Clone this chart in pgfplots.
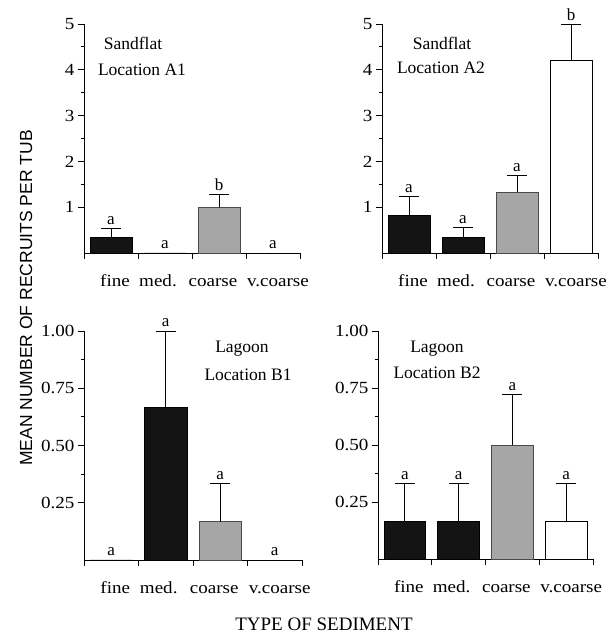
\documentclass[border=0pt]{standalone}
\usepackage{fontspec}
\setmainfont{Liberation Serif}
\newfontfamily\sansf{Liberation Sans}
\newfontfamily\tickf[FakeStretch=1.12]{Liberation Serif}
\usepackage{pgfplots}
\pgfplotsset{compat=1.18}

\definecolor{barblack}{HTML}{141414}
\definecolor{bargray}{HTML}{A6A6A6}
\definecolor{grayedge}{HTML}{4A4A4A}

\pgfplotsset{
  panel/.style={
    scale only axis, anchor=south west, clip=false,
    xmin=0.5, xmax=4.5, ymin=0,
    axis x line*=bottom, axis y line*=left,
    axis line style={line width=0.8pt, -},
    tick align=outside, major tick length=6pt, minor tick length=3.5pt,
    every tick/.style={black, line width=0.8pt},
    xtick={0.5,1.5,2.5,3.5,4.5}, x tick label as interval,
    xticklabels={\hspace*{8pt}fine, med.\hspace*{14pt}, coarse\hspace*{12pt}, \hspace*{10pt}v.coarse},
    minor y tick num=1,
    tick label style={font=\tickf\fontsize{17}{20}\selectfont},
    xticklabel style={anchor=base, yshift=-28pt},
    /pgf/number format/assume math mode=true,
  },
  blk/.style={ybar, bar width=0.78, bar shift=0pt, fill=barblack, draw=black, line width=0.8pt},
  gry/.style={ybar, bar width=0.78, bar shift=0pt, fill=bargray, draw=grayedge, line width=0.8pt},
  wht/.style={ybar, bar width=0.78, bar shift=0pt, fill=white, draw=black, line width=0.8pt},
  errb/.style={error bars/.cd, y dir=plus, y explicit, error mark=none,
    error bar style={line width=0.8pt, black}},
  cap/.style={only marks, mark=-, mark size=10pt, mark options={line width=0.8pt, black}},
}
\tikzset{lt/.style={anchor=base, yshift=4pt, font=\fontsize{17}{20}\selectfont}}

\begin{document}
\begin{tikzpicture}
\useasboundingbox (0pt,0pt) rectangle (614pt,635pt);

% Sandflat A1
\begin{axis}[panel, at={(84pt,382pt)}, width=216pt, height=229pt, ymax=5, ytick={1,2,3,4,5}]
  \addplot[blk, errb] coordinates {(1,0.33) +- (0,0.21)};
  \addplot[blk] coordinates {(2,0)};
  \addplot[gry, errb] coordinates {(3,1.0) +- (0,0.28)};
  \addplot[wht] coordinates {(4,0)};
  \addplot[cap] coordinates {(1,0.54) (3,1.28)};
  \node[lt] at (axis cs:1,0.54) {a};
  \node[lt] at (axis cs:2,0) {a};
  \node[lt] at (axis cs:3,1.28) {b};
  \node[lt] at (axis cs:4,0) {a};
\end{axis}

% Sandflat A2
\begin{axis}[panel, at={(382pt,382pt)}, width=216pt, height=229pt, ymax=5, ytick={1,2,3,4,5}]
  \addplot[blk, errb] coordinates {(1,0.83) +- (0,0.41)};
  \addplot[blk, errb] coordinates {(2,0.35) +- (0,0.20)};
  \addplot[gry, errb] coordinates {(3,1.33) +- (0,0.36)};
  \addplot[wht, errb] coordinates {(4,4.2) +- (0,0.79)};
  \addplot[cap] coordinates {(1,1.24) (2,0.55) (3,1.69) (4,4.99)};
  \node[lt] at (axis cs:1,1.24) {a};
  \node[lt] at (axis cs:2,0.55) {a};
  \node[lt] at (axis cs:3,1.69) {a};
  \node[lt] at (axis cs:4,4.99) {b};
\end{axis}

% Lagoon B1
\begin{axis}[panel, at={(84pt,75pt)}, width=218pt, height=229pt, ymax=1,
    ytick={0.25,0.5,0.75,1}, yticklabel style={/pgf/number format/.cd, fixed, fixed zerofill, precision=2}]
  \addplot[blk] coordinates {(1,0)};
  \addplot[blk, errb] coordinates {(2,0.667) +- (0,0.333)};
  \addplot[gry, errb] coordinates {(3,0.167) +- (0,0.167)};
  \addplot[wht] coordinates {(4,0)};
  \addplot[cap] coordinates {(2,1.0) (3,0.333)};
  \node[lt] at (axis cs:1,0) {a};
  \node[lt] at (axis cs:2,1.0) {a};
  \node[lt] at (axis cs:3,0.333) {a};
  \node[lt] at (axis cs:4,0) {a};
\end{axis}

% Lagoon B2
\begin{axis}[panel, at={(378pt,76pt)}, width=215pt, height=228pt, ymax=1,
    ytick={0.25,0.5,0.75,1}, yticklabel style={/pgf/number format/.cd, fixed, fixed zerofill, precision=2}]
  \addplot[blk, errb] coordinates {(1,0.167) +- (0,0.167)};
  \addplot[blk, errb] coordinates {(2,0.167) +- (0,0.167)};
  \addplot[gry, errb] coordinates {(3,0.5) +- (0,0.22)};
  \addplot[wht, errb] coordinates {(4,0.167) +- (0,0.167)};
  \addplot[cap] coordinates {(1,0.333) (2,0.333) (3,0.72) (4,0.333)};
  \node[lt] at (axis cs:1,0.333) {a};
  \node[lt] at (axis cs:2,0.333) {a};
  \node[lt] at (axis cs:3,0.72) {a};
  \node[lt] at (axis cs:4,0.333) {a};
\end{axis}

% panel captions
\begin{scope}[every node/.style={font=\fontsize{17.5}{20}\selectfont}]
  \node at (133pt,592pt) {Sandflat};
  \node at (142pt,565pt) {Location A1};
  \node at (442pt,592pt) {Sandflat};
  \node at (441pt,567pt) {Location A2};
  \node at (242pt,286pt) {Lagoon};
  \node at (248pt,260pt) {Location B1};
  \node at (437pt,286pt) {Lagoon};
  \node at (437pt,262pt) {Location B2};
\end{scope}

\node[rotate=90, font=\sansf\fontsize{17.5}{20}\selectfont] at (26pt,337pt) {MEAN NUMBER OF RECRUITS PER TUB};
\node[font=\fontsize{19}{22}\selectfont] at (324pt,11pt) {TYPE OF SEDIMENT};
\end{tikzpicture}
\end{document}
